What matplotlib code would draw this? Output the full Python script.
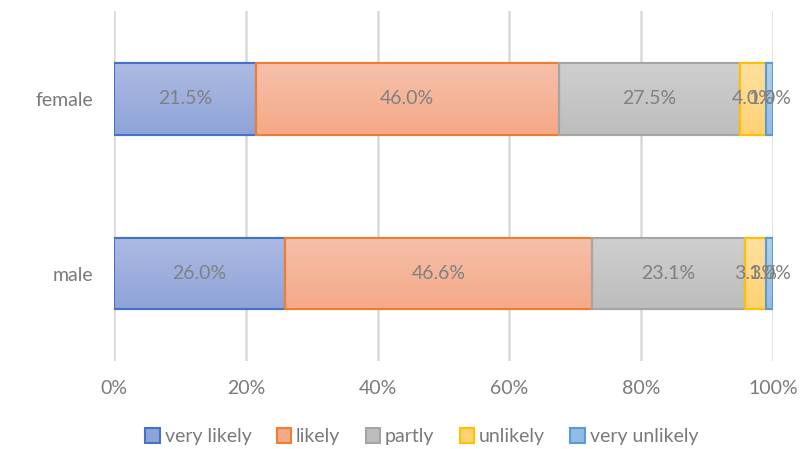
import numpy as np
import matplotlib
matplotlib.use("Agg")
from matplotlib import pyplot as plt
from matplotlib.colors import LinearSegmentedColormap

plt.rcParams['font.family'] = ['Lato', 'DejaVu Sans']

# 数据（百分比）
groups = ['male', 'female']
answers = ['very likely', 'likely', 'partly', 'unlikely', 'very unlikely']
values = {
    'very likely':   [26.0, 21.5],
    'likely':        [46.6, 46.0],
    'partly':        [23.1, 27.5],
    'unlikely':      [3.3, 4.0],
    'very unlikely': [1.0, 1.0],
}

# 填充色（上浅、下深）与边框色
fill_top = ['#adbbe2', '#f6c0aa', '#cfcfcf', '#ffe0a0', '#b3d0ee']
fill_bot = ['#8ea3d8', '#f4a987', '#bdbdbd', '#ffd273', '#92bbe6']
edges = ['#4472c4', '#ed7d31', '#a5a5a5', '#ffc000', '#5b9bd5']

fig = plt.figure(figsize=(8.11, 4.49), dpi=100)
ax = fig.add_axes([0.1406, 0.196, 0.8124, 0.779])

y = np.arange(len(groups))
bar_h = 0.41
left = np.zeros(len(groups))
for i, name in enumerate(answers):
    v = np.array(values[name])
    bars = ax.barh(y, v, left=left, height=bar_h, color=fill_bot[i],
                   edgecolor=edges[i], linewidth=1.5, label=name, zorder=3)
    cmap = LinearSegmentedColormap.from_list('g%d' % i, [fill_top[i], fill_bot[i]])
    grad = np.linspace(0, 1, 64).reshape(-1, 1)
    for b in bars:
        x0, y0 = b.get_x(), b.get_y()
        w, h = b.get_width(), b.get_height()
        im = ax.imshow(grad, cmap=cmap, aspect='auto', origin='upper',
                       extent=[x0, x0 + w, y0, y0 + h], zorder=3.1)
        im.set_clip_path(b)
        # 再画一次边框，压在渐变上面
        ax.add_patch(plt.Rectangle((x0, y0), w, h, fill=False,
                                   edgecolor=edges[i], linewidth=1.5, zorder=3.2))
    for j, b in enumerate(bars):
        ax.text(left[j] + v[j] / 2, y[j], '%.1f%%' % v[j], ha='center', va='center',
                fontsize=14, color='#808080', zorder=4)
    left += v

ax.set_xlim(0, 100)
ax.set_ylim(-0.5, 1.5)
ax.set_xticks(np.arange(0, 101, 20))
ax.set_xticklabels(['%d%%' % t for t in range(0, 101, 20)])
ax.set_yticks(y)
ax.set_yticklabels(groups)
ax.tick_params(axis='both', length=0, labelsize=14, colors='#7a7a7a')
ax.tick_params(axis='x', pad=14)
ax.tick_params(axis='y', pad=15)
ax.grid(axis='x', color='#d9d9d9', linewidth=1.8, zorder=0)
for s in ax.spines.values():
    s.set_visible(False)

leg = fig.legend(loc='center', bbox_to_anchor=(0.52, 0.027), ncol=5,
                 frameon=False, fontsize=14, handlelength=0.75, handleheight=0.75,
                 columnspacing=1.3, handletextpad=0.25, borderpad=0)
for t in leg.get_texts():
    t.set_color('#7a7a7a')

fig.savefig('out.png', dpi=100)
